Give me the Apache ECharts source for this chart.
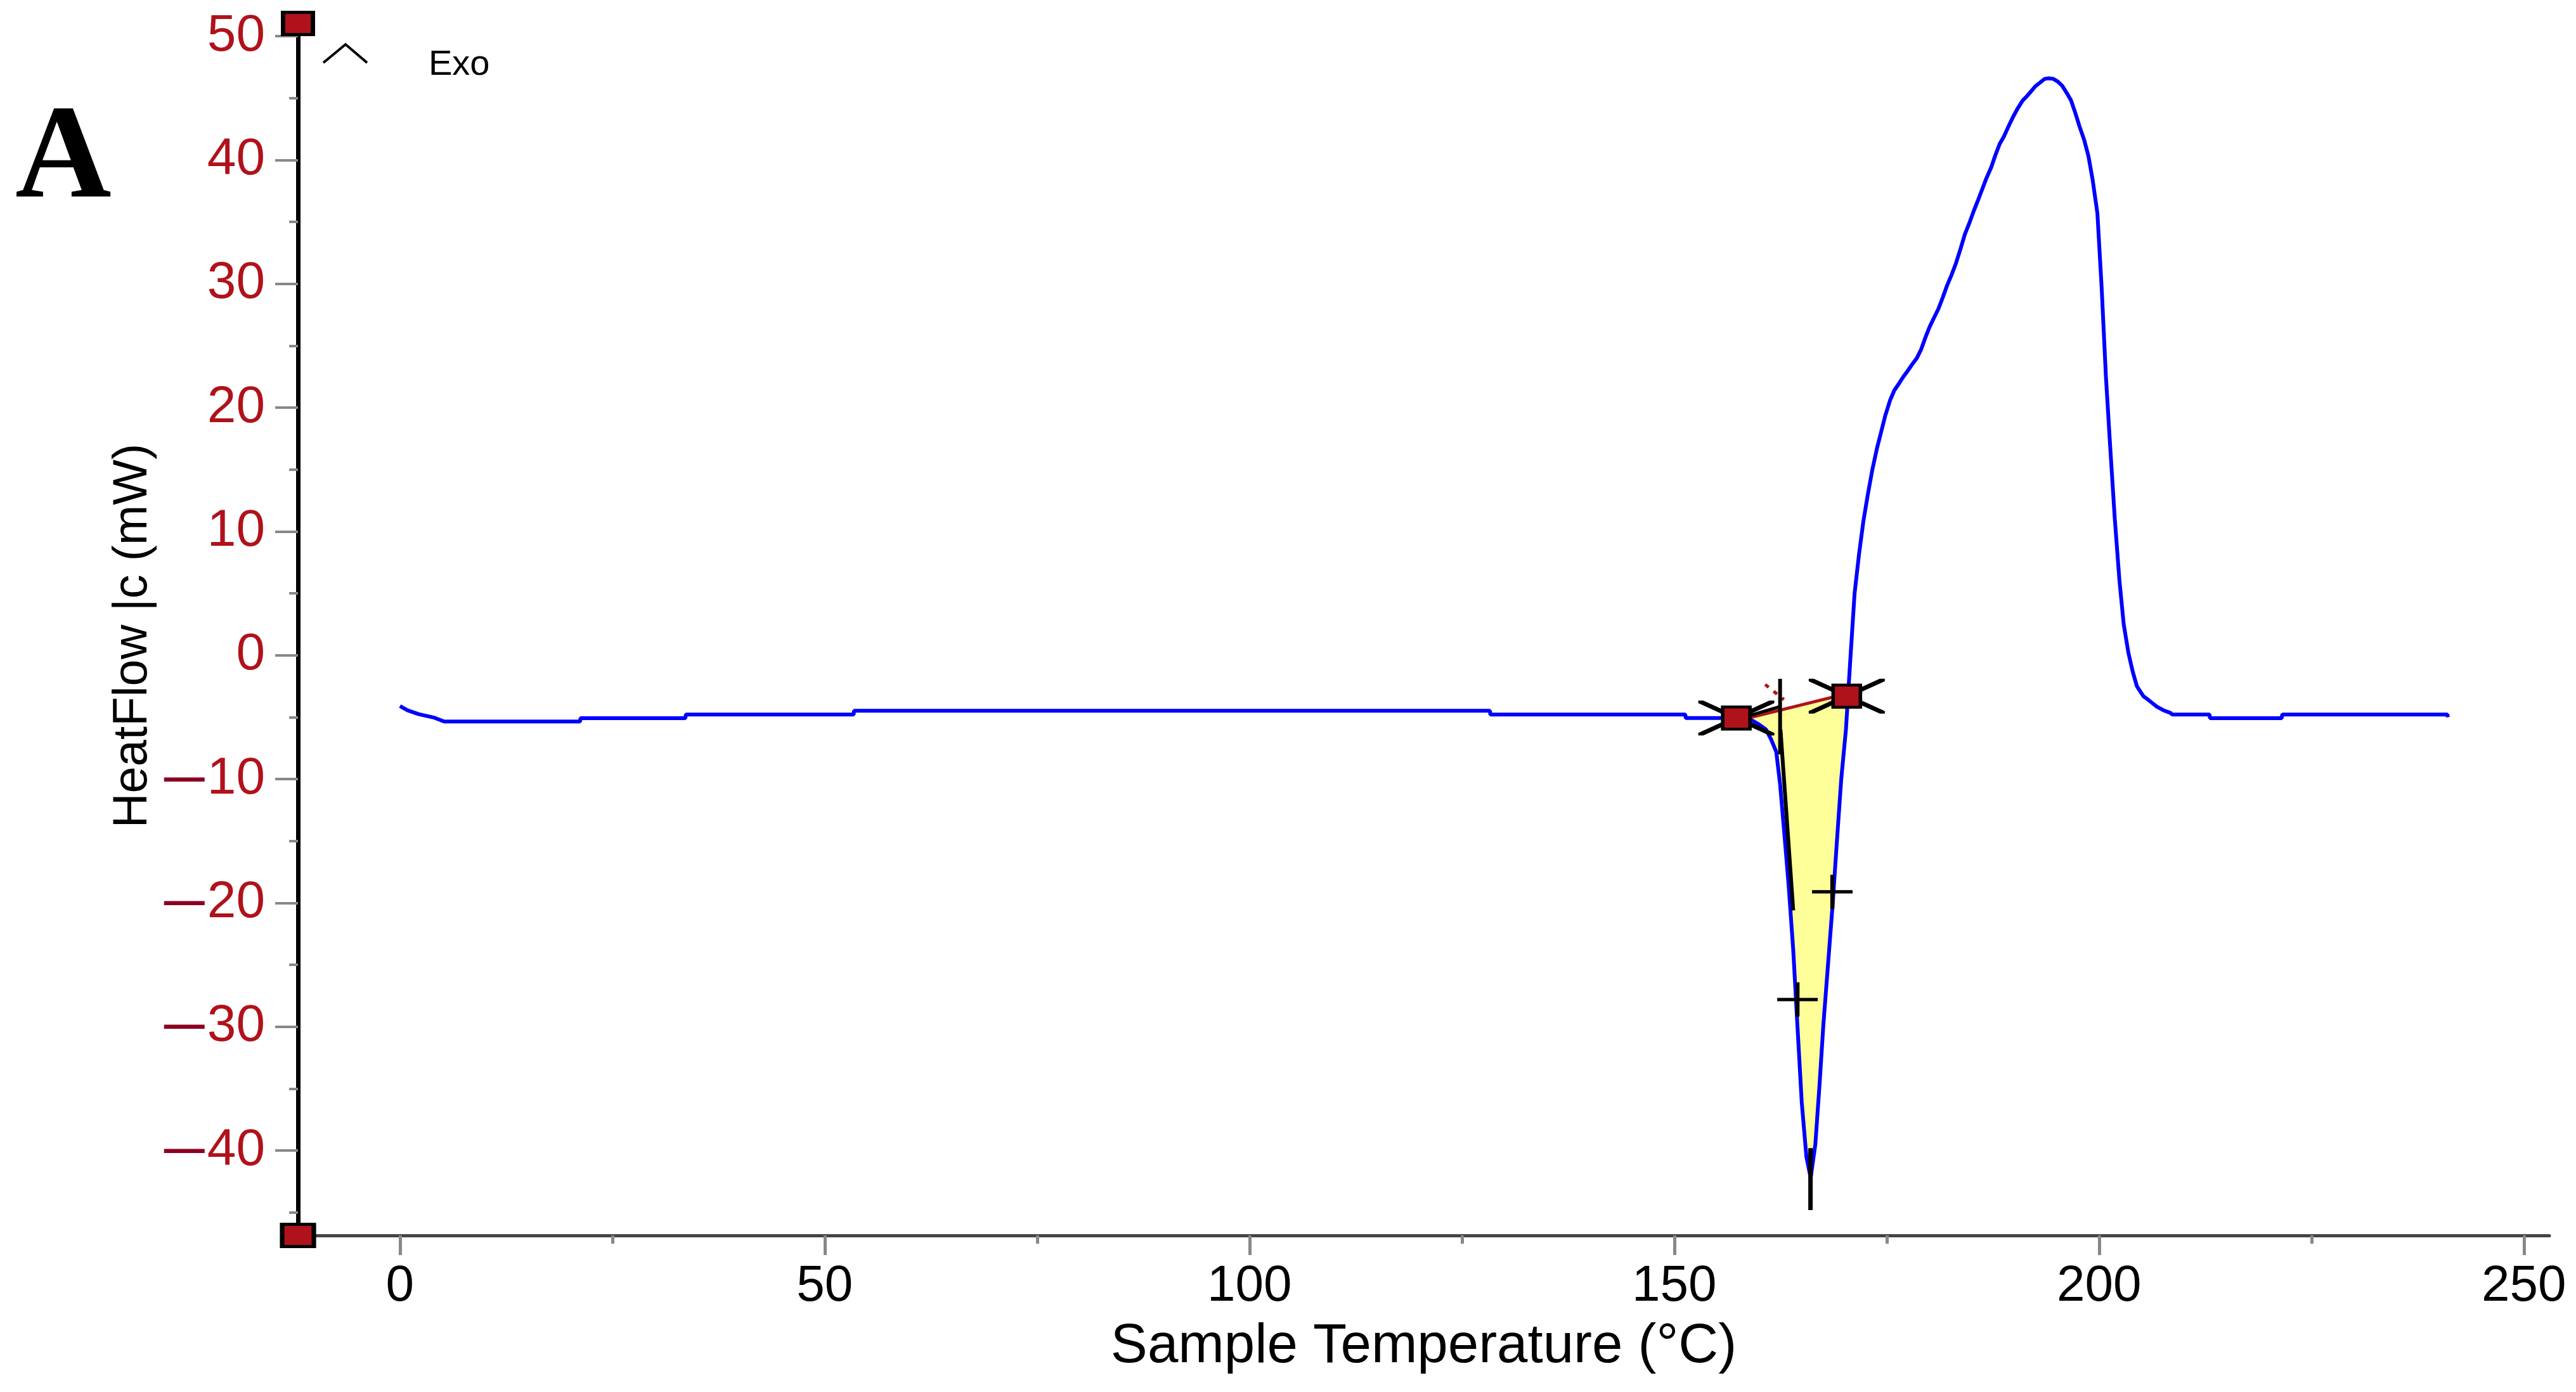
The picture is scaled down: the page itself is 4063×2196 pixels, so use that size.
<!DOCTYPE html>
<html>
<head>
<meta charset="utf-8">
<script src="https://cdn.jsdelivr.net/npm/echarts@6/dist/echarts.min.js"></script>
<style>html,body{margin:0;padding:0;background:#fff;}#chart{width:4063px;height:2196px;}</style>
</head>
<body>
<div id="chart"></div>
<script>
// ---------------- data ----------------
const X_MIN = -12, X_MAX = 253;
const Y_MIN = -46.85, Y_MAX = 50;
const xTickValues = [0, 50, 100, 150, 200, 250];
const xMinorTickValues = [25, 75, 125, 175, 225];
const yTickValues = [-40, -30, -20, -10, 0, 10, 20, 30, 40, 50];
const yMinorTickValues = [-45, -35, -25, -15, -5, 5, 15, 25, 35, 45];

const sampleTemperature = [0, 0.9, 2.2, 4.1, 5.2, 21.2, 21.25, 33.6, 33.65, 53.4, 53.45, 128.3, 128.35, 151.3, 151.35, 157.3,
  159.0, 160.0, 160.8, 161.4, 162.0, 162.45, 162.95, 163.45, 164.0, 164.5, 165.0, 165.55, 166.05, 166.6, 167.1, 167.55,
  168.1, 168.65, 169.15, 169.65, 170.2, 170.75, 171.22, 171.74, 172.25, 172.77, 173.3, 173.85, 174.35, 174.85, 175.4,
  175.9, 176.45, 176.97, 177.5, 178.0, 178.55, 179.05, 179.55, 180.07, 180.6, 181.1, 181.6, 182.1, 182.65, 183.15,
  183.7, 184.2, 184.7, 185.2, 185.75, 186.25, 186.75, 187.3, 187.8, 188.3, 188.8, 189.3, 189.85, 190.45, 191.0, 191.5,
  192.0, 192.5, 193.05, 193.6, 194.1, 194.6, 195.1, 195.65, 196.2, 196.7, 197.2, 197.7, 198.25, 198.75, 199.25, 199.8,
  200.3, 200.8, 201.3, 201.85, 202.4, 202.9, 203.45, 203.95, 204.45, 205.2, 205.7, 206.25, 206.8, 207.6, 208.4, 208.6,
  213.0, 213.05, 221.5, 221.55, 241.0, 241.05];
const heatFlow = [-4.1, -4.45, -4.75, -5.05, -5.35, -5.35, -5.08, -5.08, -4.79, -4.79, -4.48, -4.48, -4.79, -4.79, -5.07, -5.07,
  -5.2, -5.6, -6.0, -6.8, -7.8, -10.4, -14.4, -18.5, -23.8, -30.0, -36.1, -40.5, -42.2, -39.5, -34.6, -29.8,
  -24.9, -20.0, -14.9, -10.0, -6.0, 0.0, 5.0, 8.15, 10.8, 12.95, 14.95, 16.7, 18.05, 19.4, 20.6,
  21.4, 21.95, 22.5, 23.0, 23.5, 24.0, 24.7, 25.65, 26.55, 27.3, 28.0, 28.9, 29.85, 30.75, 31.65,
  32.85, 34.0, 34.85, 35.8, 36.75, 37.65, 38.55, 39.4, 40.4, 41.3, 41.9, 42.65, 43.45, 44.2, 44.8, 45.15,
  45.55, 45.95, 46.25, 46.55, 46.6, 46.55, 46.35, 46.0, 45.4, 44.8, 43.8, 42.7, 41.6, 40.3, 38.35, 35.7,
  29.7, 22.55, 16.9, 11.0, 6.0, 2.5, 0.2, -1.3, -2.5, -3.3, -3.55, -3.85, -4.15, -4.45, -4.65, -4.78,
  -4.78, -5.08, -5.08, -4.78, -4.78, -5.0];

// peak-integration annotations
const fillRange = [159.0, 170.4];
const integrationBaseline = [[157.3, -5.3], [170.3, -3.1]];
const integrationLimits = [[157.3, -5.07], [170.3, -3.3]];
const onsetLine = [[162.45, -1.9], [162.45, -8.0]];
const tangentLine = [[162.5, -6.0], [164.0, -20.6]];
const baselineExtension = [[159.0, -4.85], [162.4, -4.15]];
const dottedGuide = [[160.7, -2.36], [162.9, -3.58]];
const peakLine = [[166.03, -39.8], [166.03, -44.8]];
const crossMarks = [[164.5, -27.8], [168.6, -19.1]];
const axisEndMarks = [[X_MIN, Y_MAX], [X_MIN, Y_MIN]];

// ---------------- chart ----------------
const curve = sampleTemperature.map((t, i) => [t, heatFlow[i]]);
const FONT = '"Liberation Sans", Arial, sans-serif';
const RED = '#B0121B';

function lineSeries(data, color, width, z, dash) {
  return { type: 'line', data: data, symbol: 'none', silent: true, animation: false, z: z,
    lineStyle: { color: color, width: width, type: dash || 'solid', cap: 'butt' } };
}

const chart = echarts.init(document.getElementById('chart'), null, { renderer: 'canvas' });
chart.setOption({
  backgroundColor: '#ffffff',
  animation: false,
  grid: { left: 470, right: 42, top: 57, bottom: 247, containLabel: false },
  xAxis: [{
    type: 'value', min: X_MIN, max: X_MAX, position: 'bottom',
    name: 'Sample Temperature (°C)', nameLocation: 'middle', nameGap: 133,
    nameTextStyle: { fontFamily: FONT, fontSize: 87, color: '#000' },
    axisLine: { show: true, onZero: false, lineStyle: { color: '#444', width: 5 } },
    axisTick: { show: true, length: 31, customValues: xTickValues, lineStyle: { color: '#888', width: 5 } },
    axisLabel: { show: true, customValues: xTickValues, margin: 41, fontFamily: FONT, fontSize: 80, color: '#000' },
    splitLine: { show: false }
  }, {
    type: 'value', min: X_MIN, max: X_MAX, position: 'bottom',
    axisLine: { show: false, onZero: false },
    axisTick: { show: true, length: 13, customValues: xMinorTickValues, lineStyle: { color: '#888', width: 5 } },
    axisLabel: { show: false },
    splitLine: { show: false }
  }],
  yAxis: [{
    type: 'value', min: Y_MIN, max: Y_MAX, position: 'left',
    name: 'HeatFlow |c (mW)', nameLocation: 'middle', nameGap: 218,
    nameTextStyle: { fontFamily: FONT, fontSize: 76, color: '#000' },
    axisLine: { show: true, onZero: false, lineStyle: { color: '#000', width: 7 } },
    axisTick: { show: true, length: 36, customValues: yTickValues, lineStyle: { color: '#888', width: 4 } },
    axisLabel: {
      show: true, customValues: yTickValues, margin: 52, fontFamily: FONT, fontSize: 82, color: RED,
      formatter: function (v) { return v < 0 ? '{m|—}{d|' + (-v) + '}' : '{d|' + v + '}'; },
      rich: {
        m: { fontFamily: FONT, fontSize: 64, fontWeight: 'bold', color: '#8B0020', padding: [0, 4, 0, 0], verticalAlign: 'middle' },
        d: { fontFamily: FONT, fontSize: 82, color: RED, verticalAlign: 'middle' }
      }
    },
    splitLine: { show: false }
  }, {
    type: 'value', min: Y_MIN, max: Y_MAX, position: 'left',
    axisLine: { show: false, onZero: false },
    axisTick: { show: true, length: 14, customValues: yMinorTickValues, lineStyle: { color: '#888', width: 4 } },
    axisLabel: { show: false },
    splitLine: { show: false }
  }],
  series: [
    {
      type: 'custom', silent: true, z: 1, clip: true,
      data: [fillRange],
      encode: { x: [0, 1] },
      renderItem: function (params, api) {
        const t0 = api.value(0), t1 = api.value(1);
        const b0 = integrationBaseline[0], b1 = integrationBaseline[1];
        const baseAt = t => b0[1] + (b1[1] - b0[1]) * (t - b0[0]) / (b1[0] - b0[0]);
        const pts = [api.coord([t0, baseAt(t0)])];
        for (let i = 0; i < sampleTemperature.length; i++) {
          const t = sampleTemperature[i];
          if (t >= t0 && t <= t1) pts.push(api.coord([t, heatFlow[i]]));
        }
        pts.push(api.coord([t1, baseAt(t1)]));
        return { type: 'polygon', shape: { points: pts }, style: { fill: '#FFFF99' } };
      }
    },
    lineSeries(curve, '#0000FF', 6, 2),
    lineSeries(integrationBaseline, RED, 5, 3),
    lineSeries(dottedGuide, RED, 5, 3, [7, 10]),
    lineSeries(baselineExtension, '#000', 5, 4),
    lineSeries(onsetLine, '#000', 6, 4),
    lineSeries(tangentLine, '#000', 6, 4),
    lineSeries(peakLine, '#000', 7, 4),
    {
      type: 'scatter', data: crossMarks, silent: true, z: 5, clip: false,
      symbol: 'path://M0,9L20,9L20,11L0,11Z M9,0L11,0L11,20L9,20Z', symbolSize: [64, 54],
      itemStyle: { color: '#000', opacity: 1 }
    },
    {
      type: 'scatter', data: integrationLimits, silent: true, z: 5, clip: false,
      symbol: 'path://M0,0L8,0L120,51L120,55L112,55L0,4Z M112,0L120,0L120,4L8,55L0,55L0,51Z', symbolSize: [120, 55],
      itemStyle: { color: '#000', opacity: 1 }
    },
    {
      type: 'scatter', data: integrationLimits, silent: true, z: 6, clip: false,
      symbol: 'rect', symbolSize: [43, 35],
      itemStyle: { color: RED, borderColor: '#000', borderWidth: 5, opacity: 1 }
    },
    {
      type: 'scatter', silent: true, z: 6, clip: false,
      data: [
        { value: axisEndMarks[0], symbolOffset: [0, -20], symbolSize: [47, 35] },
        { value: axisEndMarks[1], symbolSize: [50, 35] }
      ],
      symbol: 'rect',
      itemStyle: { color: RED, borderColor: '#000', borderWidth: 6, opacity: 1 }
    }
  ],
  graphic: [
    { type: 'text', x: 24, y: 256, silent: true,
      style: { text: 'A', fontFamily: '"Liberation Serif", "Times New Roman", serif', fontSize: 210, fontWeight: 'bold',
        fill: '#000', align: 'left', verticalAlign: 'middle', textAlign: 'left', textVerticalAlign: 'middle',
        shadowColor: 'rgba(0,0,0,0.35)', shadowBlur: 8, shadowOffsetX: 5, shadowOffsetY: 5 } },
    { type: 'polyline', silent: true,
      shape: { points: [[510, 99], [545, 70], [579, 99]] },
      style: { stroke: '#000', lineWidth: 4, fill: null } },
    { type: 'text', x: 676, y: 103, silent: true,
      style: { text: 'Exo', fontFamily: FONT, fontSize: 56, fill: '#000', align: 'left', verticalAlign: 'middle',
        textAlign: 'left', textVerticalAlign: 'middle' } }
  ]
});
</script>
</body>
</html>
